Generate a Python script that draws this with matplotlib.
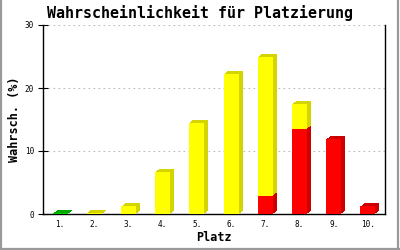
import matplotlib
matplotlib.use('Agg')
import matplotlib.pyplot as plt
from matplotlib.transforms import ScaledTranslation
from matplotlib.lines import Line2D

places = ['1.', '2.', '3.', '4.', '5.', '6.', '7.', '8.', '9.', '10.']
green = [0.12, 0, 0, 0, 0, 0, 0, 0, 0, 0]
red = [0, 0, 0, 0, 0, 0, 2.9, 13.5, 11.9, 1.2]
yellow = [0, 0.2, 1.2, 6.7, 14.5, 22.3, 22.1, 4.0, 0, 0]
yticks = [0, 10, 20, 30]

mono = 'DejaVu Sans Mono'
fig = plt.figure(figsize=(4, 2.5), dpi=100)
ax = fig.add_axes([43/400, 36/250, 342/400, 189/250])

x = list(range(len(places)))
w = 0.44
red_bottom = [0]*len(places)
yel_bottom = red[:]
series = [
    (green, [0]*len(places), '#00CC00', '#00A800'),
    (red, red_bottom, '#FF0000', '#CC0000'),
    (yellow, yel_bottom, '#FFFF00', '#D4D400'),
]

# depth (side + top faces) as stair-stepped shifted copies
for k in range(4, 0, -1):
    tr = ax.transData + ScaledTranslation(k/100, 0.75*k/100, fig.dpi_scale_trans)
    for vals, bot, face, dark in series:
        ax.bar(x, vals, w, bottom=bot, color=dark, linewidth=0, transform=tr, zorder=2)
for vals, bot, face, dark in series:
    ax.bar(x, vals, w, bottom=bot, color=face, linewidth=0, zorder=3)

ax.set_xlim(-0.5, len(places) - 0.5)
ax.set_ylim(0, 30)
ax.set_xticks(x)
ax.set_xticklabels(places, fontfamily=mono, fontsize=5.5)
ax.set_yticks(yticks)
ax.set_yticklabels([str(v) for v in yticks], fontfamily=mono, fontsize=5.5)
ax.tick_params(axis='x', length=0, pad=4.5)
ax.tick_params(axis='y', direction='inout', length=7, width=0.8, pad=3)
ax.yaxis.grid(True, color='#BBBBBB', linestyle=(0, (1.5, 3)), linewidth=0.8)
ax.set_axisbelow(True)
ax.spines['top'].set_visible(False)
for s in ['left', 'bottom', 'right']:
    ax.spines[s].set_linewidth(1.0)
    ax.spines[s].set_color('black')

ax.set_xlabel('Platz', fontfamily=mono, fontweight='bold', fontsize=8.5, labelpad=1)
ax.set_ylabel('Wahrsch. (%)', fontfamily=mono, fontweight='bold', fontsize=8.5, labelpad=3)
fig.text(0.5, 1 - 13/250, 'Wahrscheinlichkeit für Platzierung', fontfamily=mono,
         fontweight='bold', fontsize=10.8, ha='center', va='center')

# gray frame around the figure (left, right, bottom)
for xs, ys in [([0.002, 0.002], [0, 1]), ([0.995, 0.995], [0, 1]), ([0, 1], [0.006, 0.006])]:
    fig.add_artist(Line2D(xs, ys, transform=fig.transFigure, color='#999999', linewidth=1.6))

fig.savefig('out.png', dpi=100)
